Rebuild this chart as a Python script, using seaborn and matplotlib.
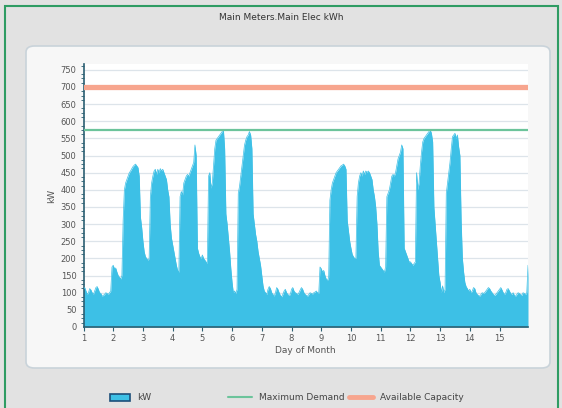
import matplotlib
matplotlib.use("Agg")
import matplotlib.pyplot as plt
from matplotlib.patches import FancyBboxPatch, Rectangle, Patch
from matplotlib.lines import Line2D
from matplotlib.ticker import MultipleLocator
import pandas as pd
import seaborn as sns

# hourly kW readings, one list per day of month (hour 0..23)
kw_day01 = [110, 115, 105, 95, 100, 112, 108, 100, 95, 105, 115, 118, 110, 100, 98, 90, 92, 95, 100, 98, 95, 100, 105, 175]
kw_day02 = [180, 170, 172, 160, 150, 145, 140, 150, 310, 400, 420, 430, 440, 450, 455, 462, 468, 472, 475, 470, 465, 440, 320, 290]
kw_day03 = [250, 220, 205, 200, 195, 200, 380, 420, 440, 455, 460, 445, 460, 450, 462, 455, 460, 450, 440, 430, 400, 380, 300, 260]
kw_day04 = [240, 220, 200, 180, 165, 160, 380, 395, 385, 420, 430, 440, 445, 440, 450, 460, 470, 480, 531, 500, 230, 215, 205, 200]
kw_day05 = [210, 200, 195, 190, 185, 440, 450, 405, 420, 470, 520, 545, 550, 555, 560, 565, 570, 575, 520, 330, 300, 260, 220, 170]
kw_day06 = [130, 100, 105, 98, 110, 390, 410, 440, 470, 500, 530, 545, 555, 560, 570, 560, 520, 330, 300, 270, 250, 220, 200, 180]
kw_day07 = [150, 120, 105, 100, 95, 110, 118, 112, 100, 95, 90, 100, 115, 110, 100, 92, 88, 95, 105, 110, 100, 95, 92, 95]
kw_day08 = [110, 115, 105, 100, 98, 95, 100, 108, 115, 110, 100, 95, 92, 90, 95, 100, 98, 96, 100, 102, 105, 100, 98, 175]
kw_day09 = [170, 160, 165, 150, 140, 135, 145, 370, 400, 420, 430, 440, 450, 455, 460, 465, 470, 472, 475, 470, 460, 310, 280, 250]
kw_day10 = [230, 212, 205, 200, 200, 380, 420, 440, 450, 440, 455, 445, 455, 450, 455, 450, 440, 430, 400, 380, 350, 300, 220, 180]
kw_day11 = [175, 170, 165, 160, 175, 380, 390, 400, 420, 440, 445, 440, 450, 470, 490, 500, 510, 531, 520, 230, 220, 210, 200, 190]
kw_day12 = [190, 185, 180, 185, 190, 450, 400, 420, 470, 510, 540, 550, 555, 560, 565, 570, 575, 565, 540, 350, 300, 250, 200, 150]
kw_day13 = [130, 100, 120, 100, 110, 390, 420, 450, 480, 520, 555, 560, 565, 550, 560, 525, 500, 310, 200, 160, 130, 118, 112, 105]
kw_day14 = [110, 100, 105, 115, 112, 100, 95, 92, 90, 95, 100, 98, 100, 105, 110, 115, 112, 105, 100, 95, 92, 95, 100, 105]
kw_day15 = [110, 115, 108, 100, 95, 100, 110, 112, 105, 98, 95, 100, 92, 90, 95, 100, 98, 95, 92, 100, 98, 95, 100, 180]

max_demand = 575
available_capacity = 700

days = [kw_day01, kw_day02, kw_day03, kw_day04, kw_day05, kw_day06, kw_day07, kw_day08,
        kw_day09, kw_day10, kw_day11, kw_day12, kw_day13, kw_day14, kw_day15]

rows = []
for d, vals in enumerate(days, start=1):
    for h, v in enumerate(vals):
        rows.append((d + h / 24, v))
df = pd.DataFrame(rows, columns=["day", "kW"])

sns.set_style("white")
plt.rcParams["font.family"] = ["DejaVu Sans"]

fill_col = "#3dc0e6"
spine_col = "#2b5f72"
text_col = "#555555"

fig = plt.figure(figsize=(5.62, 4.08), dpi=100, facecolor="#e2e2e2")

# outer green frame and white rounded panel
fig.patches.append(Rectangle((5 / 562, -0.05), 553 / 562, 1 - 6 / 408 + 0.05, transform=fig.transFigure,
                             fill=False, edgecolor="#2f9c63", linewidth=1.5, zorder=-2))
fig.patches.append(FancyBboxPatch((26 / 562, 1 - 368 / 408), 524 / 562, 322 / 408,
                                  boxstyle="round,pad=0,rounding_size=0.015", transform=fig.transFigure,
                                  facecolor="#f7f7f7", edgecolor="#c9d3da", linewidth=1.2, zorder=-1))

fig.text(0.5, 1 - 17 / 408, "Main Meters.Main Elec kWh", ha="center", va="center",
         fontsize=6.5, color="#333333")

ax = fig.add_axes([83.5 / 562, 1 - 327 / 408, (528 - 83.5) / 562, (327 - 64) / 408])
ax.set_zorder(2)
ax.set_facecolor("white")

ax.fill_between(df["day"], df["kW"], color=fill_col, linewidth=0, zorder=2)
sns.lineplot(data=df, x="day", y="kW", ax=ax, color=fill_col, linewidth=0.5, zorder=3)

ax.axhline(available_capacity, color="#f7a58e", linewidth=3.8, zorder=4)
ax.axhline(max_demand, color="#6cc49b", linewidth=1.6, zorder=4)

ax.set_xlim(1, df["day"].iloc[-1])
ax.set_ylim(0, 767)
ax.set_xticks(range(1, 16))
ax.yaxis.set_major_locator(MultipleLocator(50))
ax.yaxis.set_minor_locator(MultipleLocator(12.5))
ax.grid(axis="y", color="#dde4ea", linewidth=0.9, zorder=0)
ax.set_axisbelow(True)

for s in ["top", "right"]:
    ax.spines[s].set_visible(False)
for s in ["left", "bottom"]:
    ax.spines[s].set_color(spine_col)
    ax.spines[s].set_linewidth(1.2)

ax.tick_params(axis="both", which="major", labelsize=6, colors=spine_col, labelcolor=text_col,
               length=3, width=0.8, direction="out", pad=2)
ax.tick_params(axis="y", which="minor", left=True, length=2, width=0.6, colors=spine_col)
ax.tick_params(axis="x", which="major", bottom=True)

ax.set_xlabel("Day of Month", fontsize=6.5, color=text_col, labelpad=2)
ax.set_ylabel("kW", fontsize=6.5, color=text_col, labelpad=3)

fig.legend(handles=[Patch(facecolor=fill_col, edgecolor="#1d4f7a", linewidth=1.2, label="kW")],
           loc="center", bbox_to_anchor=(131 / 562, 1 - 398 / 408), frameon=False,
           fontsize=6.5, handlelength=2.2, handleheight=0.9, labelcolor="#444444")
fig.legend(handles=[Line2D([], [], color="#6cc49b", linewidth=1.5, label="Maximum Demand"),
                    Line2D([], [], color="#f7a58e", linewidth=3.5, label="Available Capacity")],
           loc="center", bbox_to_anchor=(346 / 562, 1 - 398 / 408), ncol=2, frameon=False,
           fontsize=6.5, handlelength=2.6, columnspacing=0.5, labelcolor="#444444")

fig.savefig("out.png", dpi=100, facecolor=fig.get_facecolor())
